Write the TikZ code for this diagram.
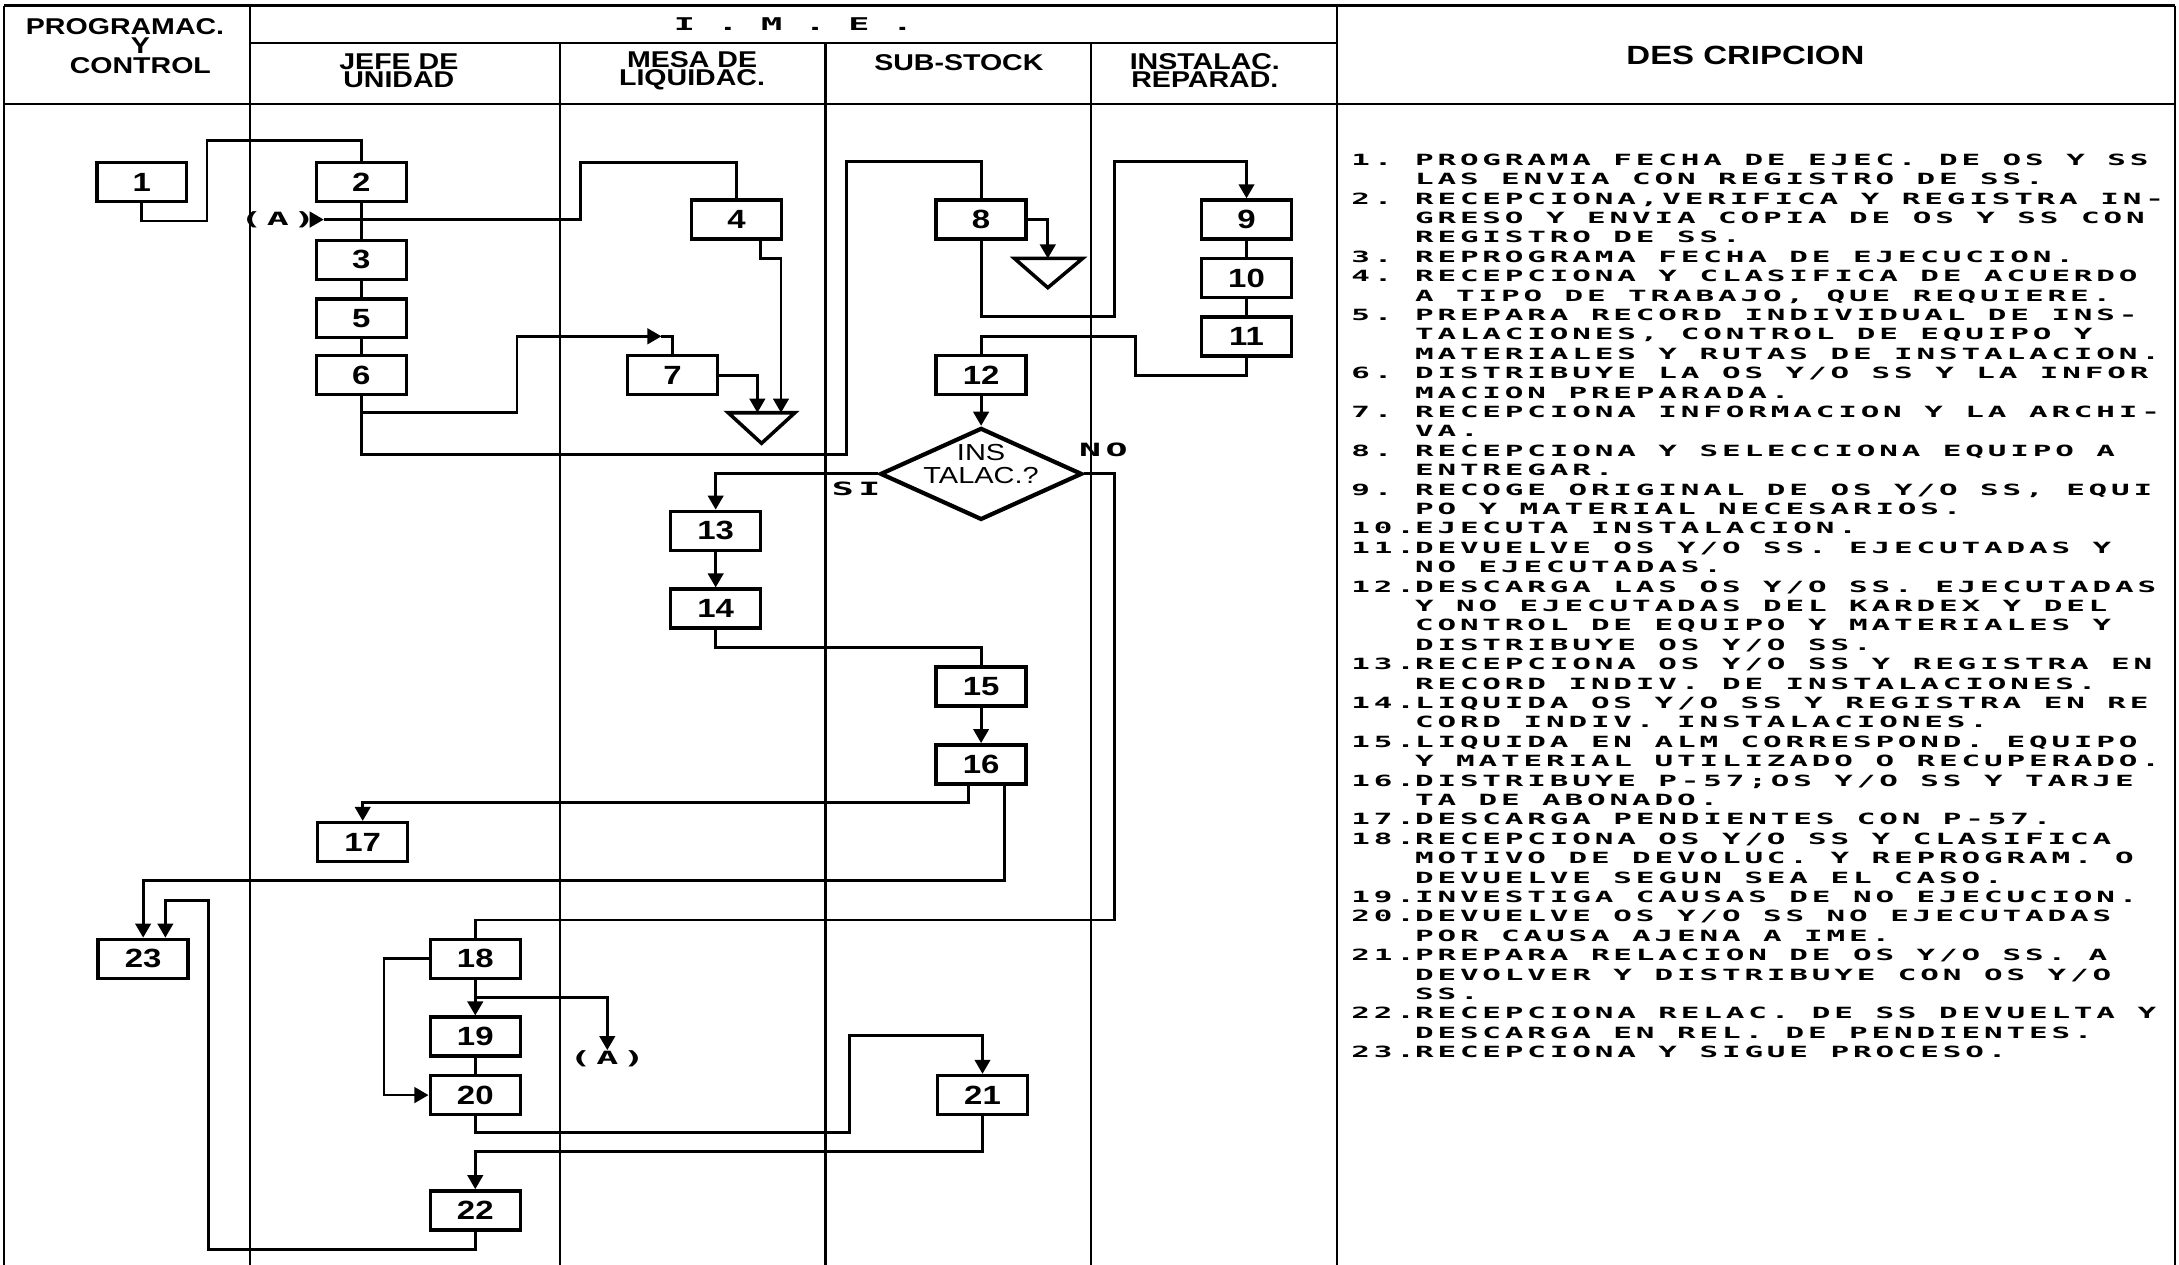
\documentclass[tikz,border=0pt]{standalone}
\usepackage{fontspec}
\usepackage{calc}
\usetikzlibrary{arrows.meta,calc,shapes.geometric}
\newfontfamily\descfont[FakeStretch=2.0,LetterSpace=25]{DejaVu Sans Mono}
\newfontfamily\hdfont[FakeStretch=1.25]{Liberation Sans}
\newcommand{\dfont}{\descfont\bfseries\fontsize{4.4pt}{5pt}\selectfont\spaceskip=6.4pt\relax}
\newcommand{\hfont}{\hdfont\bfseries\fontsize{6.5pt}{5.2pt}\selectfont}
\newcommand{\numfont}{\hdfont\bfseries\fontsize{7.5pt}{8pt}\selectfont}
\newcommand{\dnum}[1]{\makebox[\widthof{10.}][l]{#1}}

\begin{document}
\begin{tikzpicture}[
    x=0.0139cm, y=-0.0139cm,
    >={Triangle[length=4pt,width=4.4pt]},
    lane/.style={line width=0.7pt},
    link/.style={line width=0.8pt},
    box/.style={draw,line width=1pt,minimum width=0.9cm,minimum height=0.39cm,inner sep=0pt,font=\numfont},
    decision/.style={draw,diamond,line width=1.2pt,minimum width=2.02cm,minimum height=0.92cm,inner sep=0pt},
    qtext/.style={inner sep=0pt,align=center,font=\hdfont\fontsize{6.6pt}{6.4pt}\selectfont},
    hdr/.style={inner sep=0pt,align=center,font=\hfont},
    ref/.style={inner sep=0pt,font=\dfont\fontsize{5.2pt}{6pt}\selectfont},
    descline/.style={anchor=base west,inner sep=0pt,font=\dfont}
  ]
  \fill[white] (0,0) rectangle (1568,910);
  \useasboundingbox (0,0) rectangle (1568,910);

  % frame and lanes
  \draw[lane] (3,4) -- (1565,4);
  \draw[lane] (3,75) -- (1565,75);
  \draw[lane] (180,31) -- (962,31);
  \foreach \lx in {3,180,962,1565}
    \draw[lane] (\lx,4) -- (\lx,910);
  \foreach \lx in {403,594,785}
    \draw[lane] (\lx,31) -- (\lx,910);

  % header
  \node[hdr] (hpro) at (90,19) {PROGRAMAC.};
  \node[hdr] (hy) at (101,33) {Y};
  \node[hdr] (hcon) at (101,47) {CONTROL};
  \node[inner sep=0pt,font=\dfont\fontsize{5pt}{6pt}\selectfont] (hime) at (571,17) {I . M . E .};
  \node[hdr] (hjef) at (287,51) {JEFE DE\\UNIDAD};
  \node[hdr] (hmes) at (498,51) {MESA DE\\LIQUIDAC.};
  \node[hdr] (hsub) at (690,45) {SUB-STOCK};
  \node[hdr] (hins) at (867,51) {INSTALAC.\\REPARAD.};
  \node[inner sep=0pt,font=\hdfont\bfseries\fontsize{7.5pt}{8pt}\selectfont] (hdes) at (1256,40) {DES CRIPCION};

  % process boxes
  \node[box] (b1) at (102,131) {1};
  \node[box] (b2) at (260,131) {2};
  \node[box] (b3) at (260,187) {3};
  \node[box] (b5) at (260,229) {5};
  \node[box] (b6) at (260,270) {6};
  \node[box] (b4) at (530,158) {4};
  \node[box] (b7) at (484,270) {7};
  \node[box] (b8) at (706,158) {8};
  \node[box] (b9) at (897,158) {9};
  \node[box] (b10) at (897,200) {10};
  \node[box] (b11) at (897,242) {11};
  \node[box] (b12) at (706,270) {12};
  \node[decision] (dq) at (706,341) {};
  \node[qtext] (dqt) at (706,334) {INS\\TALAC.?};
  \node[box] (b13) at (515,382) {13};
  \node[box] (b14) at (515,438) {14};
  \node[box] (b15) at (706,494) {15};
  \node[box] (b16) at (706,550) {16};
  \node[box] (b17) at (261,606) {17};
  \node[box] (b23) at (103,690) {23};
  \node[box] (b18) at (342,690) {18};
  \node[box] (b19) at (342,746) {19};
  \node[box] (b20) at (342,788) {20};
  \node[box] (b21) at (707,788) {21};
  \node[box] (b22) at (342,871) {22};
  \node[ref] (ain) at (200,158) {(A)};
  \node[ref] (aout) at (437,762) {(A)};
  \node[ref] (lsi) at (616,352) {SI};
  \node[ref] (lno) at (794,324) {NO};

  % archive triangles
  \draw[link,line width=1pt] (524,297) -- (572,297) -- (548,319) -- cycle;
  \draw[link,line width=1pt] (730,186) -- (779,186) -- (754,207) -- cycle;

  % connectors
  \draw[link] (b1.south) |- (149,159) -- (149,101) -| (b2.north);
  \draw[link] (b2) -- (b3) -- (b5) -- (b6);
  \draw[link,->] (ain.east) -- (233,158);
  \draw[link] (b4.north) |- (418,117) -- (418,158) -- (233,158);
  \draw[link,->] ($(b4.south)+(17,0)$) |- (562,186) -- (562,297);
  \draw[link,->] (b7.east) -| (545,297);
  \draw[link,->] (b6.south) |- (372,297) |- (476,242);
  \draw[link] (476,242) -| (b7.north);
  \draw[link] (b6.south) |- (609,327) -- (609,116) -| (b8.north);
  \draw[link,->] (b8.east) -| (754,186);
  \draw[link,->] (b8.south) |- (802,228) -- (802,116) -| (b9.north);
  \draw[link] (b9) -- (b10) -- (b11);
  \draw[link] (b11.south) |- (817,270) -- (817,242) -| (b12.north);
  \draw[link,->] (b12.south) -- (dq.north);
  \draw[link,->] (dq.west) -| (b13.north);
  \draw[link] (dq.east) -| (802,662) -| (b18.north);
  \draw[link,->] (b13) -- (b14);
  \draw[link] (b14.south) |- (706,466) -- (b15.north);
  \draw[link,->] (b15) -- (b16);
  \draw[link,->] ($(b16.south)+(-9,0)$) |- ($(b17.north)+(0,-13)$) -- (b17.north);
  \draw[link,->] ($(b16.south)+(17,0)$) |- ($(b23.north)+(0,-41)$) -- (b23.north);
  \draw[link,->] (b22.south) |- (150,899) -- (150,648) -| ($(b23.north)+(16,0)$);
  \draw[link,->] (b18) -- (b19);
  \coordinate (j18) at ($(b18.south)!0.5!(b19.north)$);
  \draw[link,->] (j18) -| (aout.north);
  \draw[link,->] (b18.west) -- ++(-32,0) |- (b20.west);
  \draw[link] (b19) -- (b20);
  \draw[link,->] (b20.south) |- (611,815) -- (611,745) -| (b21.north);
  \draw[link,->] (b21.south) |- ($(b22.north)+(0,-27)$) -- (b22.north);

  % description
  \foreach \dno/\dtx [count=\i from 0] in {
      1./{PROGRAMA FECHA DE EJEC. DE OS Y SS},
      /{LAS ENVIA CON REGISTRO DE SS.},
      2./{RECEPCIONA,VERIFICA Y REGISTRA IN-},
      /{GRESO Y ENVIA COPIA DE OS Y SS CON},
      /{REGISTRO DE SS.},
      3./{REPROGRAMA FECHA DE EJECUCION.},
      4./{RECEPCIONA Y CLASIFICA DE ACUERDO},
      /{A TIPO DE TRABAJO, QUE REQUIERE.},
      5./{PREPARA RECORD INDIVIDUAL DE INS-},
      /{TALACIONES, CONTROL DE EQUIPO Y},
      /{MATERIALES Y RUTAS DE INSTALACION.},
      6./{DISTRIBUYE LA OS Y/O SS Y LA INFOR},
      /{MACION PREPARADA.},
      7./{RECEPCIONA INFORMACION Y LA ARCHI-},
      /{VA.},
      8./{RECEPCIONA Y SELECCIONA EQUIPO A},
      /{ENTREGAR.},
      9./{RECOGE ORIGINAL DE OS Y/O SS, EQUI},
      /{PO Y MATERIAL NECESARIOS.},
      10./{EJECUTA INSTALACION.},
      11./{DEVUELVE OS Y/O SS. EJECUTADAS Y},
      /{NO EJECUTADAS.},
      12./{DESCARGA LAS OS Y/O SS. EJECUTADAS},
      /{Y NO EJECUTADAS DEL KARDEX Y DEL},
      /{CONTROL DE EQUIPO Y MATERIALES Y},
      /{DISTRIBUYE OS Y/O SS.},
      13./{RECEPCIONA OS Y/O SS Y REGISTRA EN},
      /{RECORD INDIV. DE INSTALACIONES.},
      14./{LIQUIDA OS Y/O SS Y REGISTRA EN RE},
      /{CORD INDIV. INSTALACIONES.},
      15./{LIQUIDA EN ALM CORRESPOND. EQUIPO},
      /{Y MATERIAL UTILIZADO O RECUPERADO.},
      16./{DISTRIBUYE P-57;OS Y/O SS Y TARJE},
      /{TA DE ABONADO.},
      17./{DESCARGA PENDIENTES CON P-57.},
      18./{RECEPCIONA OS Y/O SS Y CLASIFICA},
      /{MOTIVO DE DEVOLUC. Y REPROGRAM. O},
      /{DEVUELVE SEGUN SEA EL CASO.},
      19./{INVESTIGA CAUSAS DE NO EJECUCION.},
      20./{DEVUELVE OS Y/O SS NO EJECUTADAS},
      /{POR CAUSA AJENA A IME.},
      21./{PREPARA RELACION DE OS Y/O SS. A},
      /{DEVOLVER Y DISTRIBUYE CON OS Y/O},
      /{SS.},
      22./{RECEPCIONA RELAC. DE SS DEVUELTA Y},
      /{DESCARGA EN REL. DE PENDIENTES.},
      23./{RECEPCIONA Y SIGUE PROCESO.}}
    \node[descline] (d\i) at (972,{119+13.96*\i}) {\dnum{\dno}\dtx};
\end{tikzpicture}
\end{document}
